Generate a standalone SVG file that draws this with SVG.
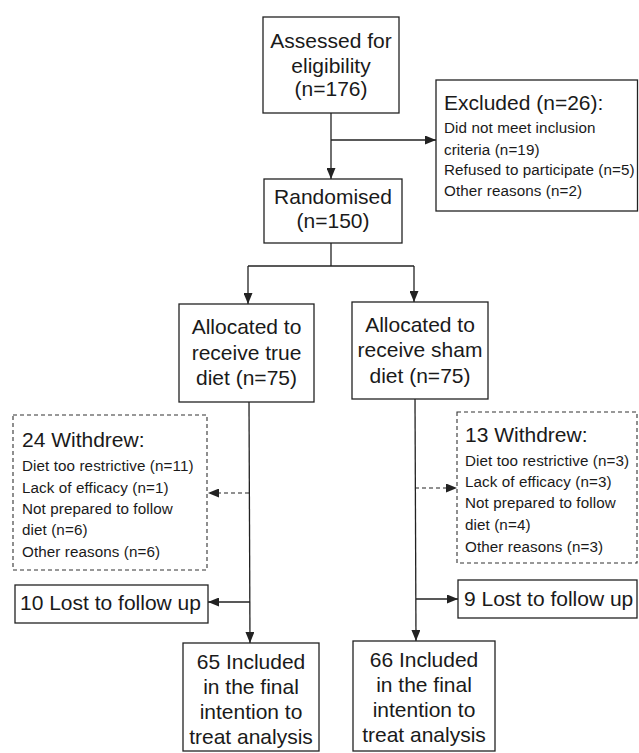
<svg xmlns="http://www.w3.org/2000/svg" width="639" height="753" viewBox="0 0 639 753">
<defs>
<style>
.box{fill:#fff;stroke:#222;stroke-width:1.3}
.dbox{fill:none;stroke:#333;stroke-width:1.1;stroke-dasharray:4 3}
.big{font-family:"Liberation Sans",Arial,sans-serif;font-size:21px;fill:#1a1a1a}
.mid{font-family:"Liberation Sans",Arial,sans-serif;font-size:21px;fill:#1a1a1a}
.sm{font-family:"Liberation Sans",Arial,sans-serif;font-size:15.2px;letter-spacing:0.1px;fill:#1a1a1a}
.c{text-anchor:middle}
.ln{fill:none;stroke:#222;stroke-width:1.3}
.dl{fill:none;stroke:#222;stroke-width:1.2;stroke-dasharray:4 3}
</style>
<marker id="ah" markerUnits="userSpaceOnUse" markerWidth="11" markerHeight="9" refX="11" refY="4.5" orient="auto">
<path d="M0,0 L11,4.5 L0,9 z" fill="#222"/>
</marker>
</defs>
<rect width="639" height="753" fill="#fff"/>
<g id="connectors">
<line class="ln" x1="331" y1="113" x2="331" y2="179" marker-end="url(#ah)"/>
<line class="ln" x1="331" y1="140" x2="436" y2="140" marker-end="url(#ah)"/>
<line class="ln" x1="331" y1="243" x2="331" y2="266"/>
<line class="ln" x1="248" y1="266" x2="414" y2="266"/>
<line class="ln" x1="248" y1="266" x2="248" y2="304" marker-end="url(#ah)"/>
<line class="ln" x1="414" y1="266" x2="414" y2="302" marker-end="url(#ah)"/>
<line class="ln" x1="249" y1="402" x2="250" y2="643" marker-end="url(#ah)"/>
<line class="dl" x1="249" y1="493" x2="208" y2="493" marker-end="url(#ah)"/>
<line class="ln" x1="250" y1="602" x2="208" y2="602" marker-end="url(#ah)"/>
<line class="ln" x1="415" y1="399" x2="416" y2="641" marker-end="url(#ah)"/>
<line class="dl" x1="415" y1="488" x2="457" y2="488" marker-end="url(#ah)"/>
<line class="ln" x1="416" y1="599" x2="458" y2="599" marker-end="url(#ah)"/>
</g>
<g id="assessed">
<rect class="box" x="263" y="17" width="136" height="96"/>
<text class="big c" x="331" y="48">Assessed for</text>
<text class="big c" x="331" y="73">eligibility</text>
<text class="big c" x="331" y="96">(n=176)</text>
</g>
<g id="excluded">
<rect class="box" x="436" y="80" width="201.5" height="131"/>
<text class="big" x="444" y="110">Excluded (n=26):</text>
<text class="sm" x="444" y="133">Did not meet inclusion</text>
<text class="sm" x="444" y="155">criteria (n=19)</text>
<text class="sm" x="444" y="175">Refused to participate (n=5)</text>
<text class="sm" x="444" y="196">Other reasons (n=2)</text>
</g>
<g id="randomised">
<rect class="box" x="264" y="179" width="138" height="64"/>
<text class="big c" x="333" y="204">Randomised</text>
<text class="big c" x="333" y="228">(n=150)</text>
</g>
<g id="alloc-true">
<rect class="box" x="179" y="304" width="135" height="98"/>
<text class="big c" x="246.5" y="334">Allocated to</text>
<text class="big c" x="246.5" y="360">receive true</text>
<text class="big c" x="246.5" y="385">diet (n=75)</text>
</g>
<g id="alloc-sham">
<rect class="box" x="352" y="302" width="136" height="97"/>
<text class="big c" x="420" y="332">Allocated to</text>
<text class="big c" x="420" y="357">receive sham</text>
<text class="big c" x="420" y="383">diet (n=75)</text>
</g>
<g id="withdrew-true">
<rect class="dbox" x="13" y="415" width="194" height="155"/>
<text class="big" x="22" y="447">24 Withdrew:</text>
<text class="sm" x="22" y="471">Diet too restrictive (n=11)</text>
<text class="sm" x="22" y="493">Lack of efficacy (n=1)</text>
<text class="sm" x="22" y="514">Not prepared to follow</text>
<text class="sm" x="22" y="535">diet (n=6)</text>
<text class="sm" x="22" y="557">Other reasons (n=6)</text>
</g>
<g id="withdrew-sham">
<rect class="dbox" x="457" y="412" width="180" height="151"/>
<text class="big" x="465" y="442">13 Withdrew:</text>
<text class="sm" x="465" y="466">Diet too restrictive (n=3)</text>
<text class="sm" x="465" y="487">Lack of efficacy (n=3)</text>
<text class="sm" x="465" y="508">Not prepared to follow</text>
<text class="sm" x="465" y="530">diet (n=4)</text>
<text class="sm" x="465" y="552">Other reasons (n=3)</text>
</g>
<g id="lost-true">
<rect class="box" x="15" y="585" width="193" height="38"/>
<text class="mid" x="20" y="610">10 Lost to follow up</text>
</g>
<g id="lost-sham">
<rect class="box" x="458" y="580" width="179" height="38"/>
<text class="mid" x="464" y="606">9 Lost to follow up</text>
</g>
<g id="final-true">
<rect class="box" x="183" y="643" width="136" height="108"/>
<text class="big c" x="251" y="669">65 Included</text>
<text class="big c" x="251" y="694">in the final</text>
<text class="big c" x="251" y="719">intention to</text>
<text class="big c" x="251" y="744">treat analysis</text>
</g>
<g id="final-sham">
<rect class="box" x="353" y="641" width="142" height="110"/>
<text class="big c" x="424" y="667">66 Included</text>
<text class="big c" x="424" y="692">in the final</text>
<text class="big c" x="424" y="717">intention to</text>
<text class="big c" x="424" y="742">treat analysis</text>
</g>
</svg>
